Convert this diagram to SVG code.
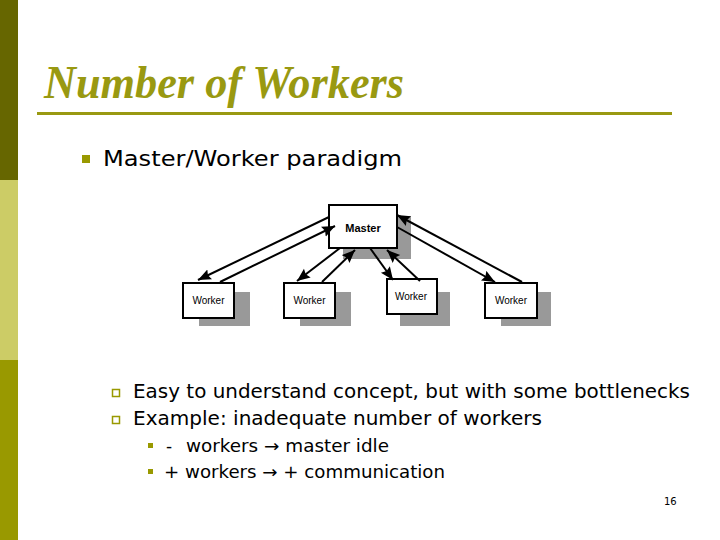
<svg xmlns="http://www.w3.org/2000/svg" width="720" height="540" viewBox="0 0 720 540">
<style>
.title{font-family:"Liberation Serif","Times New Roman",serif;font-weight:bold;font-style:italic;font-size:46px;fill:#999911}
.body{font-family:"DejaVu Sans","Noto Sans",sans-serif;fill:#000}
.box{fill:#fff;stroke:#000;stroke-width:2}
.shadow{fill:#999999}
.lbl{font-family:"Liberation Sans",Arial,sans-serif;font-size:10px;fill:#000;text-anchor:middle}
.conn{stroke:#000;stroke-width:2;fill:none;marker-end:url(#ah)}
</style>
<defs>
<marker id="ah" markerUnits="userSpaceOnUse" markerWidth="16" markerHeight="12" refX="13" refY="5.5" orient="auto">
<path d="M0,0 L13,5.5 L0,11 L2,5.5 Z" fill="#000"/>
</marker>
</defs>
<rect x="0" y="0" width="720" height="540" fill="#fff"/>
<rect x="0" y="0" width="18" height="180" fill="#666600"/>
<rect x="0" y="180" width="18" height="180" fill="#cccc66"/>
<rect x="0" y="360" width="18" height="180" fill="#999900"/>
<text class="title" x="44" y="98" textLength="360" lengthAdjust="spacingAndGlyphs">Number of Workers</text>
<rect x="37" y="112" width="635" height="3" fill="#999911"/>
<rect x="82" y="155" width="8" height="8" fill="#999900"/>
<text class="body" x="103" y="166" font-size="22" textLength="299" lengthAdjust="spacingAndGlyphs">Master/Worker paradigm</text>
<g id="master">
<rect class="shadow" x="343" y="216" width="68" height="43"/>
<rect class="box" x="329" y="205" width="68" height="43"/>
<text class="lbl" x="363" y="232" style="font-size:11px;font-weight:bold">Master</text>
</g>
<g id="worker1">
<rect class="shadow" x="199" y="292" width="51" height="34"/>
<rect class="box" x="183" y="283" width="51" height="35"/>
<text class="lbl" x="208.5" y="304">Worker</text>
</g>
<g id="worker2">
<rect class="shadow" x="300" y="292" width="51" height="34"/>
<rect class="box" x="284" y="283" width="51" height="35"/>
<text class="lbl" x="309.5" y="304">Worker</text>
</g>
<g id="worker3">
<rect class="shadow" x="400" y="292" width="50" height="34"/>
<rect class="box" x="387" y="279" width="50" height="35"/>
<text class="lbl" x="411" y="300">Worker</text>
</g>
<g id="worker4">
<rect class="shadow" x="501" y="292" width="50" height="34"/>
<rect class="box" x="485" y="283" width="52" height="35"/>
<text class="lbl" x="511" y="304">Worker</text>
</g>
<g id="connectors">
<line class="conn" x1="329" y1="217" x2="198" y2="280"/>
<line class="conn" x1="220" y1="282" x2="335" y2="226"/>
<line class="conn" x1="340" y1="248" x2="297" y2="281"/>
<line class="conn" x1="322" y1="282" x2="355" y2="250"/>
<line class="conn" x1="370" y1="248" x2="393" y2="280"/>
<line class="conn" x1="420" y1="281" x2="387" y2="250"/>
<line class="conn" x1="397" y1="227" x2="495" y2="282"/>
<line class="conn" x1="522" y1="282" x2="397" y2="215"/>
</g>
<rect x="112.5" y="389.5" width="7" height="7" fill="none" stroke="#999900" stroke-width="1.5"/>
<text class="body" x="133" y="398" font-size="19" textLength="557" lengthAdjust="spacingAndGlyphs">Easy to understand concept, but with some bottlenecks</text>
<rect x="112.5" y="416.5" width="7" height="7" fill="none" stroke="#999900" stroke-width="1.5"/>
<text class="body" x="133" y="425" font-size="19" textLength="409" lengthAdjust="spacingAndGlyphs">Example: inadequate number of workers</text>
<rect x="148" y="443" width="5" height="5" fill="#999900"/>
<text class="body" x="166" y="452" font-size="17">-</text>
<text class="body" x="186" y="452" font-size="17" textLength="203" lengthAdjust="spacingAndGlyphs">workers → master idle</text>
<rect x="148" y="469" width="5" height="5" fill="#999900"/>
<text class="body" x="164" y="478" font-size="17" textLength="281" lengthAdjust="spacingAndGlyphs">+ workers → + communication</text>
<text class="body" x="664" y="505" font-size="10">16</text>
</svg>
